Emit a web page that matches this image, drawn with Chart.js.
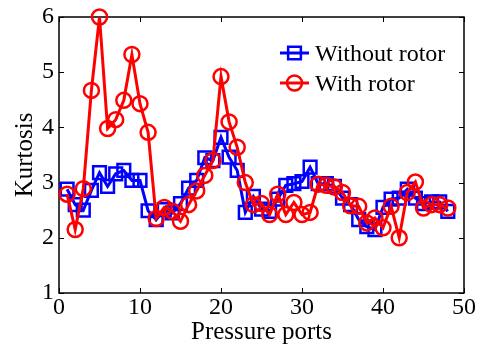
<!DOCTYPE html>
<html><head><meta charset="utf-8">
<script src="https://cdn.jsdelivr.net/npm/chart.js@4/dist/chart.umd.min.js"></script>
<style>html,body{margin:0;padding:0;background:#fff;overflow:hidden}</style>
</head><body>
<canvas id="c" width="480" height="349" style="display:block;width:480px;height:349px"></canvas>
<script>
// ---- data ----
const ports = [1,2,3,4,5,6,7,8,9,10,11,12,13,14,15,16,17,18,19,20,21,22,23,24,25,26,27,28,29,30,31,32,33,34,35,36,37,38,39,40,41,42,43,44,45,46,47,48];
const withoutRotor = [2.88,2.60,2.50,2.86,3.18,2.93,3.16,3.22,3.04,3.04,2.49,2.33,2.51,2.45,2.62,2.90,3.04,3.45,3.40,3.82,3.46,3.22,2.46,2.75,2.52,2.48,2.70,2.95,2.98,3.02,3.28,2.98,2.98,2.93,2.72,2.60,2.33,2.20,2.15,2.55,2.70,2.72,2.88,2.72,2.62,2.65,2.65,2.48];
const withRotor = [2.79,2.15,2.89,4.67,6.00,3.98,4.14,4.49,5.32,4.43,3.91,2.35,2.55,2.48,2.30,2.60,2.85,3.13,3.40,4.92,4.10,3.64,3.00,2.60,2.62,2.42,2.79,2.42,2.64,2.42,2.46,2.97,2.95,2.92,2.82,2.58,2.57,2.27,2.36,2.18,2.57,2.00,2.82,3.01,2.54,2.60,2.60,2.54];
const seriesNames = ['Without rotor','With rotor'];
const xTicks = [0,10,20,30,40,50];
const yTicks = [1,2,3,4,5,6];
const xTitle = 'Pressure ports';
const yTitle = 'Kurtosis';

const FONT = "'Liberation Serif','Times New Roman',serif";

const boxPlugin = {
  id: 'boxTicks',
  beforeDatasetsDraw(chart) {
    const {ctx, chartArea: a, scales: {x, y}} = chart;
    ctx.save();
    ctx.strokeStyle = '#000';
    ctx.lineWidth = 1.5;
    ctx.strokeRect(a.left, a.top, a.right - a.left, a.bottom - a.top);
    ctx.lineWidth = 1;
    const L = 5;
    ctx.beginPath();
    x.ticks.forEach(t => {
      const px = Math.round(x.getPixelForValue(t.value)) + 0.5;
      ctx.moveTo(px, a.bottom); ctx.lineTo(px, a.bottom - L);
      ctx.moveTo(px, a.top); ctx.lineTo(px, a.top + L);
    });
    y.ticks.forEach(t => {
      const py = Math.round(y.getPixelForValue(t.value)) + 0.5;
      ctx.moveTo(a.left, py); ctx.lineTo(a.left + L, py);
      ctx.moveTo(a.right, py); ctx.lineTo(a.right - L, py);
    });
    ctx.stroke();
    ctx.restore();
  },
  afterDraw(chart) {
    const ctx = chart.ctx;
    const items = [
      {ds: chart.data.datasets[0], y: 53, base: 61},
      {ds: chart.data.datasets[1], y: 83, base: 91}
    ];
    items.forEach(it => {
      const d = it.ds;
      ctx.save();
      ctx.strokeStyle = d.borderColor;
      ctx.lineWidth = d.borderWidth;
      ctx.beginPath(); ctx.moveTo(280, it.y); ctx.lineTo(309, it.y); ctx.stroke();
      ctx.fillStyle = 'rgba(0,0,0,0)';
      ctx.strokeStyle = d.pointBorderColor;
      ctx.lineWidth = d.pointBorderWidth;
      Chart.helpers.drawPoint(ctx, {pointStyle: d.pointStyle, radius: d.pointRadius, borderWidth: d.pointBorderWidth}, 294.5, it.y);
      ctx.restore();
      ctx.save();
      ctx.fillStyle = '#000';
      ctx.font = "24px " + FONT;
      ctx.textBaseline = 'alphabetic';
      ctx.textAlign = 'left';
      ctx.fillText(d.label, 315, it.base);
      ctx.restore();
    });
  }
};

new Chart(document.getElementById('c'), {
  type: 'line',
  data: {
    datasets: [
      {
        label: seriesNames[0],
        data: ports.map((p, i) => ({x: p, y: withoutRotor[i]})),
        borderColor: '#0000ff', backgroundColor: 'rgba(0,0,0,0)',
        borderWidth: 3, pointStyle: 'rect', pointRadius: 9,
        pointBorderWidth: 2.5, pointBackgroundColor: 'rgba(0,0,0,0)',
        pointBorderColor: '#0000ff', tension: 0, order: 1, clip: false
      },
      {
        label: seriesNames[1],
        data: ports.map((p, i) => ({x: p, y: withRotor[i]})),
        borderColor: '#ff0000', backgroundColor: 'rgba(0,0,0,0)',
        borderWidth: 3, pointStyle: 'circle', pointRadius: 7.5,
        pointBorderWidth: 2.5, pointBackgroundColor: 'rgba(0,0,0,0)',
        pointBorderColor: '#ff0000', tension: 0, order: 0, clip: false
      }
    ]
  },
  options: {
    responsive: false, animation: false, devicePixelRatio: 1,
    layout: {padding: {left: 0, right: 16, top: 13, bottom: 2}},
    plugins: {legend: {display: false}, tooltip: {enabled: false}},
    scales: {
      x: {
        type: 'linear', min: 0, max: 50,
        afterBuildTicks: s => { s.ticks = xTicks.map(v => ({value: v})); },
        afterFit: s => { s.height = 54; },
        grid: {display: false, drawTicks: false},
        border: {display: false},
        ticks: {color: '#000', padding: 3, maxRotation: 0, font: {family: FONT, size: 24, lineHeight: 1}},
        title: {display: true, text: xTitle, color: '#000', padding: 0, font: {family: FONT, size: 25, lineHeight: 1.2}}
      },
      y: {
        type: 'linear', min: 1, max: 6,
        afterBuildTicks: s => { s.ticks = yTicks.map(v => ({value: v})); },
        afterFit: s => { s.width = 59; },
        grid: {display: false, drawTicks: false},
        border: {display: false},
        ticks: {color: '#000', padding: 5, font: {family: FONT, size: 24, lineHeight: 1}},
        title: {display: true, text: yTitle, color: '#000', padding: {top: 10, bottom: 0}, font: {family: FONT, size: 25, lineHeight: 1.2}}
      }
    }
  },
  plugins: [boxPlugin]
});
</script>
</body></html>
